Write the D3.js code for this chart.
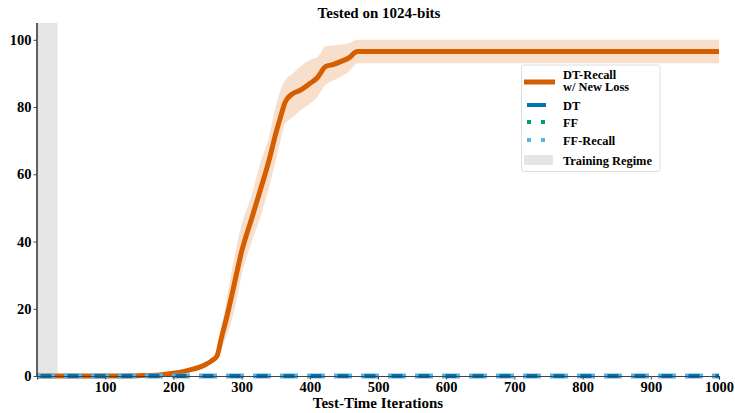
<!DOCTYPE html>
<html>
<head>
<meta charset="utf-8">
<script src="https://cdn.jsdelivr.net/npm/d3@7"></script>
<style>
  body { margin: 0; background: #fff; }
  svg text { font-family: "Liberation Serif", "Times New Roman", serif; font-weight: bold; fill: #000; }
</style>
</head>
<body>
<svg id="chart" width="735" height="413"></svg>
<script>
// DT-Recall w/ New Loss: mean accuracy and spread band
const recallIters = [0, 50, 100, 150, 180, 200, 214, 230, 246, 256, 264, 270, 280, 290, 300, 315, 327, 340, 350, 357, 364, 375, 386, 400, 411, 423, 435, 445, 457, 470, 500, 600, 700, 800, 900, 1000];
const recallMean  = [0, 0, 0, 0.1, 0.3, 0.8, 1.3, 2.1, 3.3, 4.5, 6.0, 11, 19, 28, 37, 47, 55, 64, 72, 77, 81.5, 84, 85, 87, 88.7, 92, 92.7, 93.5, 94.6, 96.5, 96.5, 96.5, 96.5, 96.5, 96.5, 96.5];
const recallLow   = [0, 0, 0, 0, 0.1, 0.5, 0.9, 1.6, 2.7, 3.8, 5.0, 8, 13, 20, 30, 40, 47, 56, 64, 70, 75, 77, 79, 81, 83, 86.6, 88, 89, 90.5, 93, 93, 93, 93, 93, 93, 93];
const recallHigh  = [0, 0, 0, 0.2, 0.6, 1.2, 1.8, 2.7, 4.0, 5.3, 7.2, 14, 25, 36, 45, 54, 63, 71, 80, 85, 88, 90, 92, 94, 94.8, 98, 98.3, 98.5, 99, 100, 100, 100, 100, 100, 100, 100];

// Baselines stay at zero accuracy across all test iterations
const baseIters   = [0, 1000];
const dtAcc       = [0, 0];
const ffAcc       = [0, 0];
const ffRecallAcc = [0, 0];

const trainingRegime = [0, 30];
const xTicks = [100, 200, 300, 400, 500, 600, 700, 800, 900, 1000];
const yTicks = [0, 20, 40, 60, 80, 100];

const colors = {
  recall: '#d55e00',
  band: '#d55e00',
  dt: '#0072b2',
  ff: '#009e73',
  ffRecall: '#56b4e9',
  regime: '#e5e5e5'
};

const svg = d3.select('#chart');
const x = d3.scaleLinear().domain([0, 1000]).range([37, 719]);
const y = d3.scaleLinear().domain([0, 105]).range([376, 23]);

// Training regime shading
svg.append('rect')
  .attr('x', x(trainingRegime[0]))
  .attr('y', y(105))
  .attr('width', x(trainingRegime[1]) - x(trainingRegime[0]))
  .attr('height', y(0) - y(105))
  .attr('fill', colors.regime);

const recall = recallIters.map((it, i) => ({ it, m: recallMean[i], lo: recallLow[i], hi: recallHigh[i] }));

// Spread band
svg.append('path')
  .datum(recall)
  .attr('fill', colors.band)
  .attr('fill-opacity', 0.2)
  .attr('d', d3.area()
    .x(d => x(d.it))
    .y0(d => y(d.lo))
    .y1(d => y(d.hi))
    .curve(d3.curveMonotoneX));

const zeroLine = (vals) => baseIters.map((it, i) => ({ it, v: vals[i] }));
const lineGen = d3.line().x(d => x(d.it)).y(d => y(d.v));

// FF (mostly hidden underneath)
svg.append('path')
  .datum(zeroLine(ffAcc))
  .attr('fill', 'none')
  .attr('stroke', colors.ff)
  .attr('stroke-width', 4)
  .attr('stroke-dasharray', '18 9')
  .attr('d', lineGen);

// Mean line
svg.append('path')
  .datum(recall)
  .attr('fill', 'none')
  .attr('stroke', colors.recall)
  .attr('stroke-width', 5)
  .attr('stroke-linejoin', 'round')
  .attr('d', d3.line()
    .x(d => x(d.it))
    .y(d => y(d.m))
    .curve(d3.curveMonotoneX));

// FF-Recall
svg.append('path')
  .datum(zeroLine(ffRecallAcc))
  .attr('fill', 'none')
  .attr('stroke', colors.ffRecall)
  .attr('stroke-width', 5)
  .attr('stroke-dasharray', '18 9')
  .attr('d', lineGen);

// DT
svg.append('path')
  .datum(zeroLine(dtAcc))
  .attr('fill', 'none')
  .attr('stroke', colors.dt)
  .attr('stroke-width', 4)
  .attr('stroke-dasharray', '11 16')
  .attr('stroke-dashoffset', -3.5)
  .attr('d', lineGen);

// Axes (left and bottom spines only)
const xAxis = svg.append('g')
  .attr('transform', `translate(0,${y(0)})`)
  .call(d3.axisBottom(x).tickValues(xTicks).tickSize(3.5).tickPadding(2).tickFormat(d3.format('d')));
xAxis.select('.domain').attr('stroke', '#444').attr('stroke-width', 1.2);
xAxis.selectAll('.tick line').attr('stroke', '#444');
xAxis.selectAll('text').attr('font-size', '14.5px').attr('fill', '#000');

const yAxis = svg.append('g')
  .attr('transform', `translate(${x(0)},0)`)
  .call(d3.axisLeft(y).tickValues(yTicks).tickSize(3.5).tickPadding(2).tickFormat(d3.format('d')));
yAxis.select('.domain').attr('stroke', '#222').attr('stroke-width', 1.4)
  .attr('d', `M0,${y(105)}V${y(0)}`);
yAxis.selectAll('.tick line').attr('stroke', '#444');
yAxis.selectAll('text').attr('font-size', '14.5px').attr('fill', '#000');

// Title and axis label
svg.append('text')
  .attr('x', 379)
  .attr('y', 18)
  .attr('text-anchor', 'middle')
  .attr('font-size', '15px')
  .text('Tested on 1024-bits');

svg.append('text')
  .attr('x', 378)
  .attr('y', 407.5)
  .attr('text-anchor', 'middle')
  .attr('font-size', '15px')
  .text('Test-Time Iterations');

// Legend
const legend = svg.append('g');
legend.append('rect')
  .attr('x', 521.5).attr('y', 65)
  .attr('width', 138.5).attr('height', 106.5)
  .attr('rx', 2.5)
  .attr('fill', '#fff').attr('fill-opacity', 0.8)
  .attr('stroke', '#d6d6d6').attr('stroke-width', 0.8);

const legendItems = [
  { label: ['DT-Recall', 'w/ New Loss'], type: 'line', color: colors.recall, width: 5, dash: null, x0: 524, x1: 555, y: 82, ty: 78.8 },
  { label: ['DT'], type: 'line', color: colors.dt, width: 4, dash: null, x0: 527, x1: 546, y: 105, ty: 110 },
  { label: ['FF'], type: 'line', color: colors.ff, width: 4, dash: '4 10', x0: 527, x1: 545, y: 122, ty: 127 },
  { label: ['FF-Recall'], type: 'line', color: colors.ffRecall, width: 4, dash: '4 10', x0: 527, x1: 545, y: 140, ty: 145 },
  { label: ['Training Regime'], type: 'rect', color: colors.regime, x0: 524, x1: 553, y: 160, ty: 164.5 }
];

legendItems.forEach(item => {
  if (item.type === 'line') {
    legend.append('line')
      .attr('x1', item.x0).attr('x2', item.x1)
      .attr('y1', item.y).attr('y2', item.y)
      .attr('stroke', item.color)
      .attr('stroke-width', item.width)
      .attr('stroke-dasharray', item.dash);
  } else {
    legend.append('rect')
      .attr('x', item.x0).attr('y', item.y - 5)
      .attr('width', item.x1 - item.x0).attr('height', 10)
      .attr('fill', item.color);
  }
  // each label line is its own text element
  item.label.forEach((line, i) => {
    legend.append('text')
      .attr('x', 563)
      .attr('y', item.ty + i * 12.6)
      .attr('font-size', '12.4px')
      .text(line);
  });
});
</script>
</body>
</html>
